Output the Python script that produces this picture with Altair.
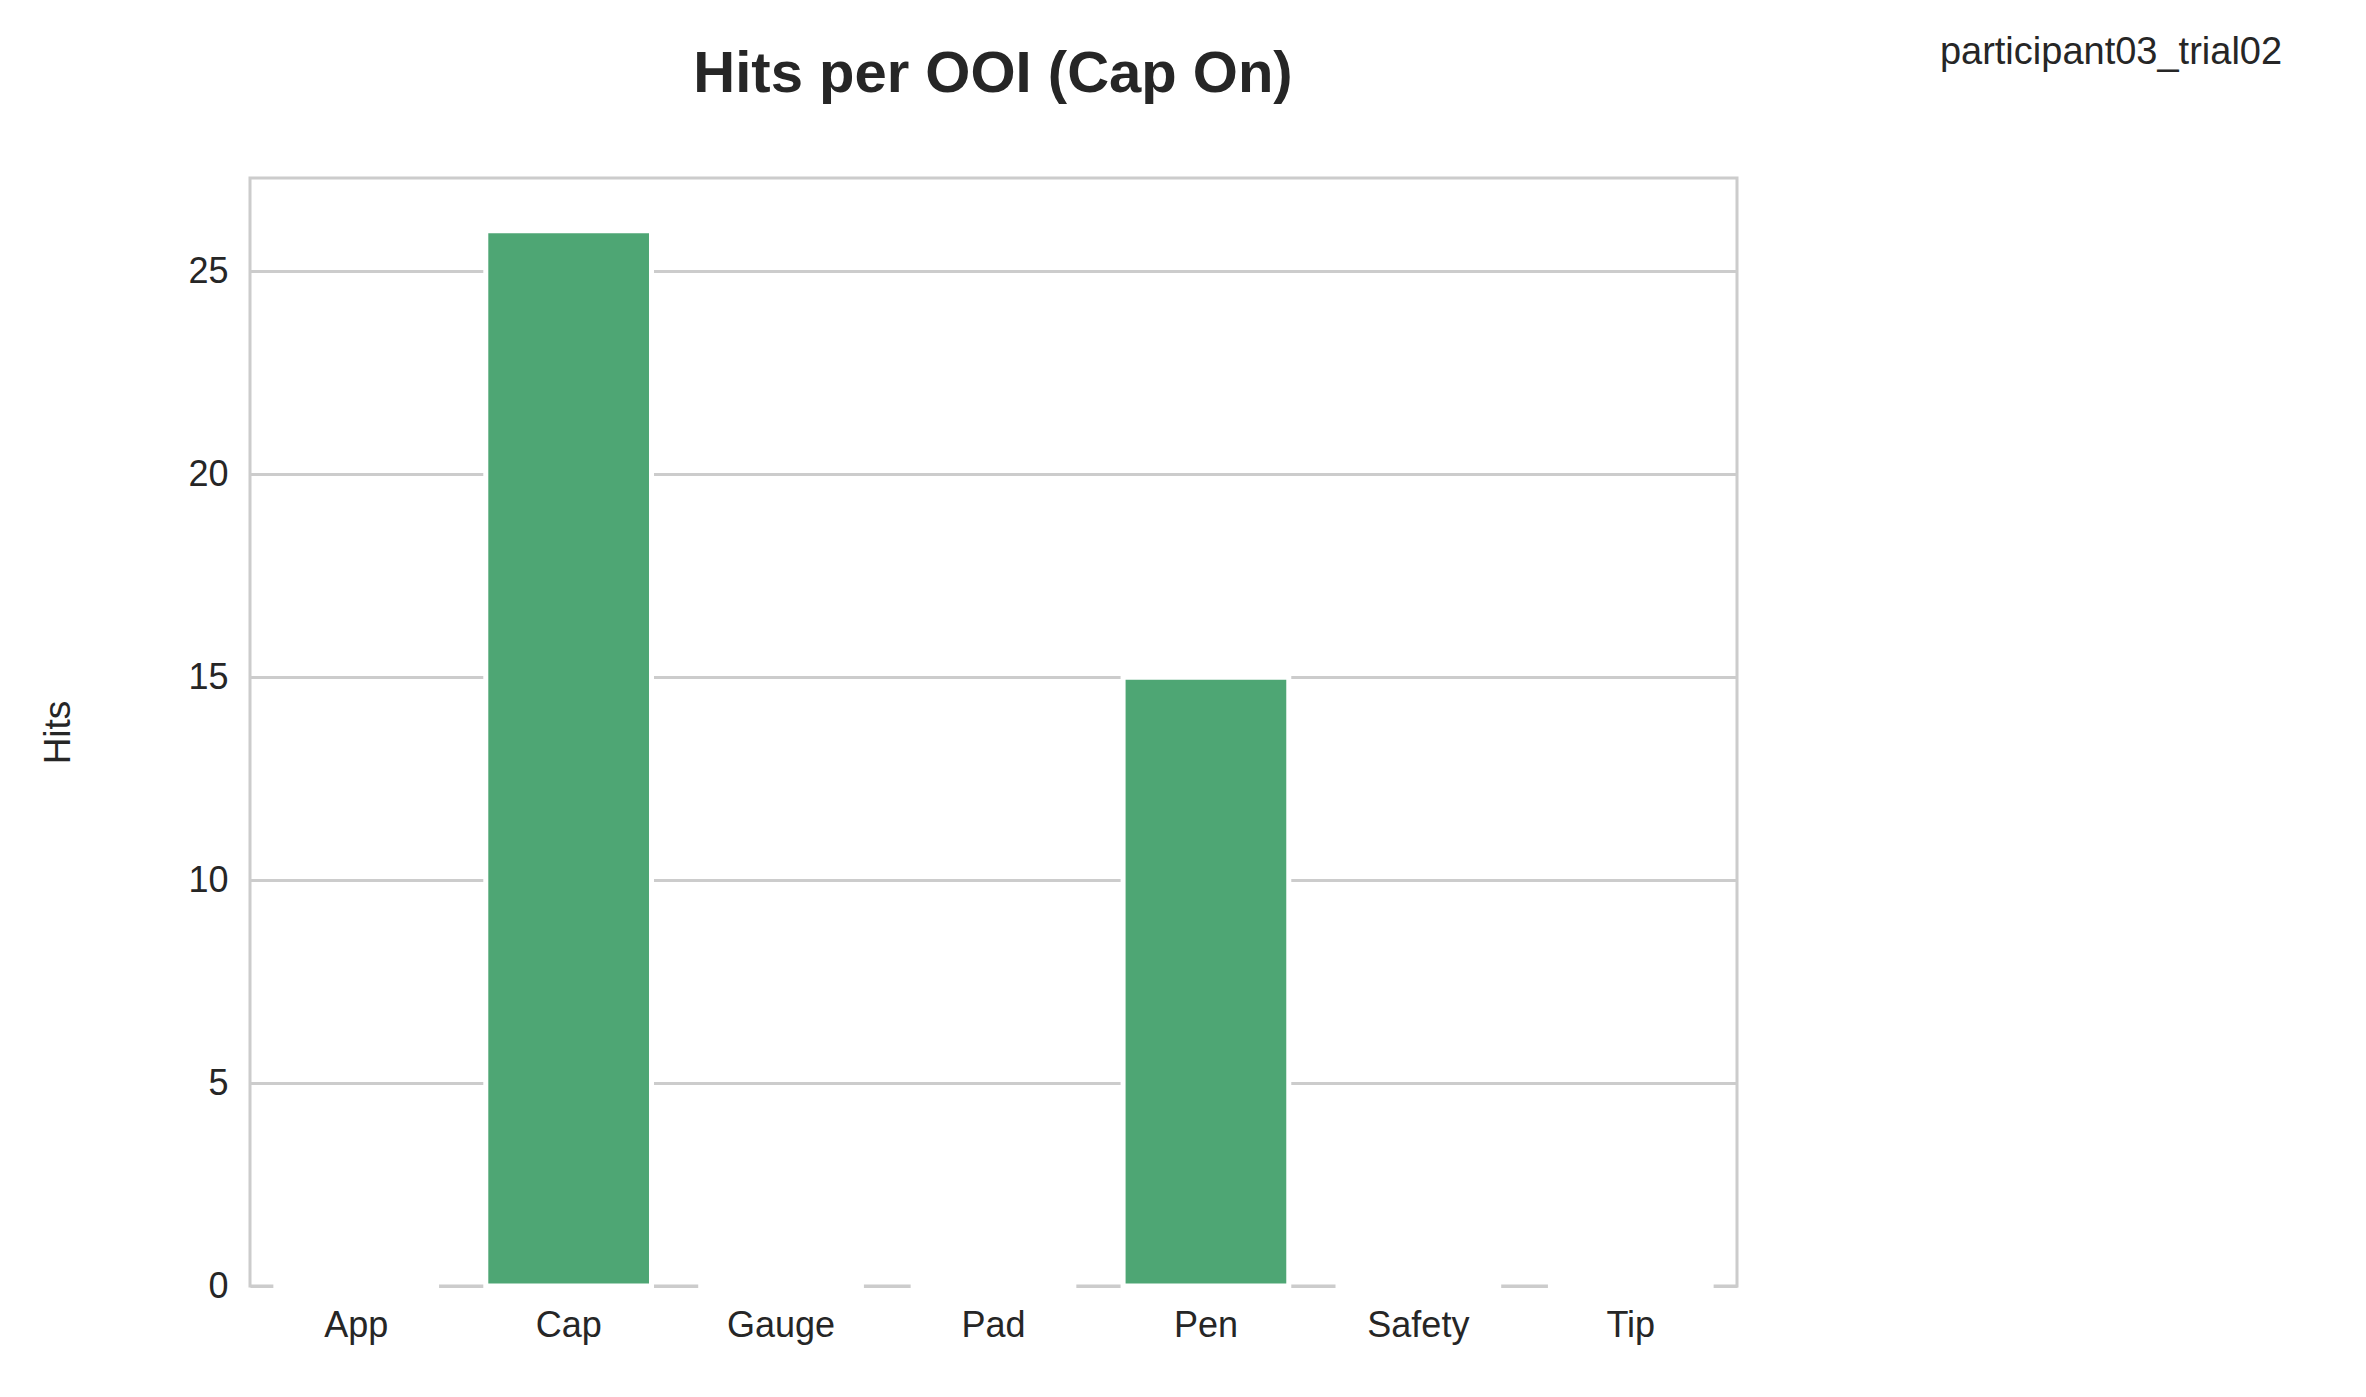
import altair as alt
import pandas as pd

categories = ["App", "Cap", "Gauge", "Pad", "Pen", "Safety", "Tip"]
hits = [0, 26, 0, 0, 15, 0, 0]
df = pd.DataFrame({"OOI": categories, "Hits": hits})

bars = alt.Chart(df).mark_bar(color="#4ea674", stroke="white", strokeWidth=5).encode(
    x=alt.X("OOI:N", sort=categories, title=None,
            scale=alt.Scale(paddingInner=0.22, paddingOuter=0.11),
            axis=alt.Axis(labelAngle=0, labelFontSize=36, labelColor="#262626",
                          ticks=False, domain=False, grid=False, labelPadding=22)),
    y=alt.Y("Hits:Q", title="Hits", scale=alt.Scale(domain=[0, 27.3], nice=False),
            axis=alt.Axis(values=[0, 5, 10, 15, 20, 25], labelFontSize=36, labelColor="#262626",
                          ticks=False, domain=False, gridColor="#cccccc", gridWidth=3,
                          titleFontSize=37, titleFontWeight="normal", titleColor="#262626",
                          titlePadding=110, labelPadding=22)),
)

titles = pd.DataFrame({"t": ["Hits per OOI (Cap On)"]})
title = alt.Chart(titles).mark_text(
    fontSize=58, fontWeight="bold", color="#262626", align="center", baseline="middle"
).encode(text="t:N", x=alt.value(743), y=alt.value(-103))

note = alt.Chart(pd.DataFrame({"t": ["participant03_trial02"]})).mark_text(
    fontSize=38, color="#262626", align="center", baseline="middle"
).encode(text="t:N", x=alt.value(1861), y=alt.value(-125))

chart = alt.layer(bars, title, note).properties(
    width=1487, height=1108,
    autosize=alt.AutoSizeParams(type="none"),
    padding={"left": 242, "top": 170, "right": 620, "bottom": 110},
).configure(font="Liberation Sans").configure_view(stroke="#cccccc", strokeWidth=3)

chart.save("out.html", embed_options={"renderer": "svg", "actions": False})
